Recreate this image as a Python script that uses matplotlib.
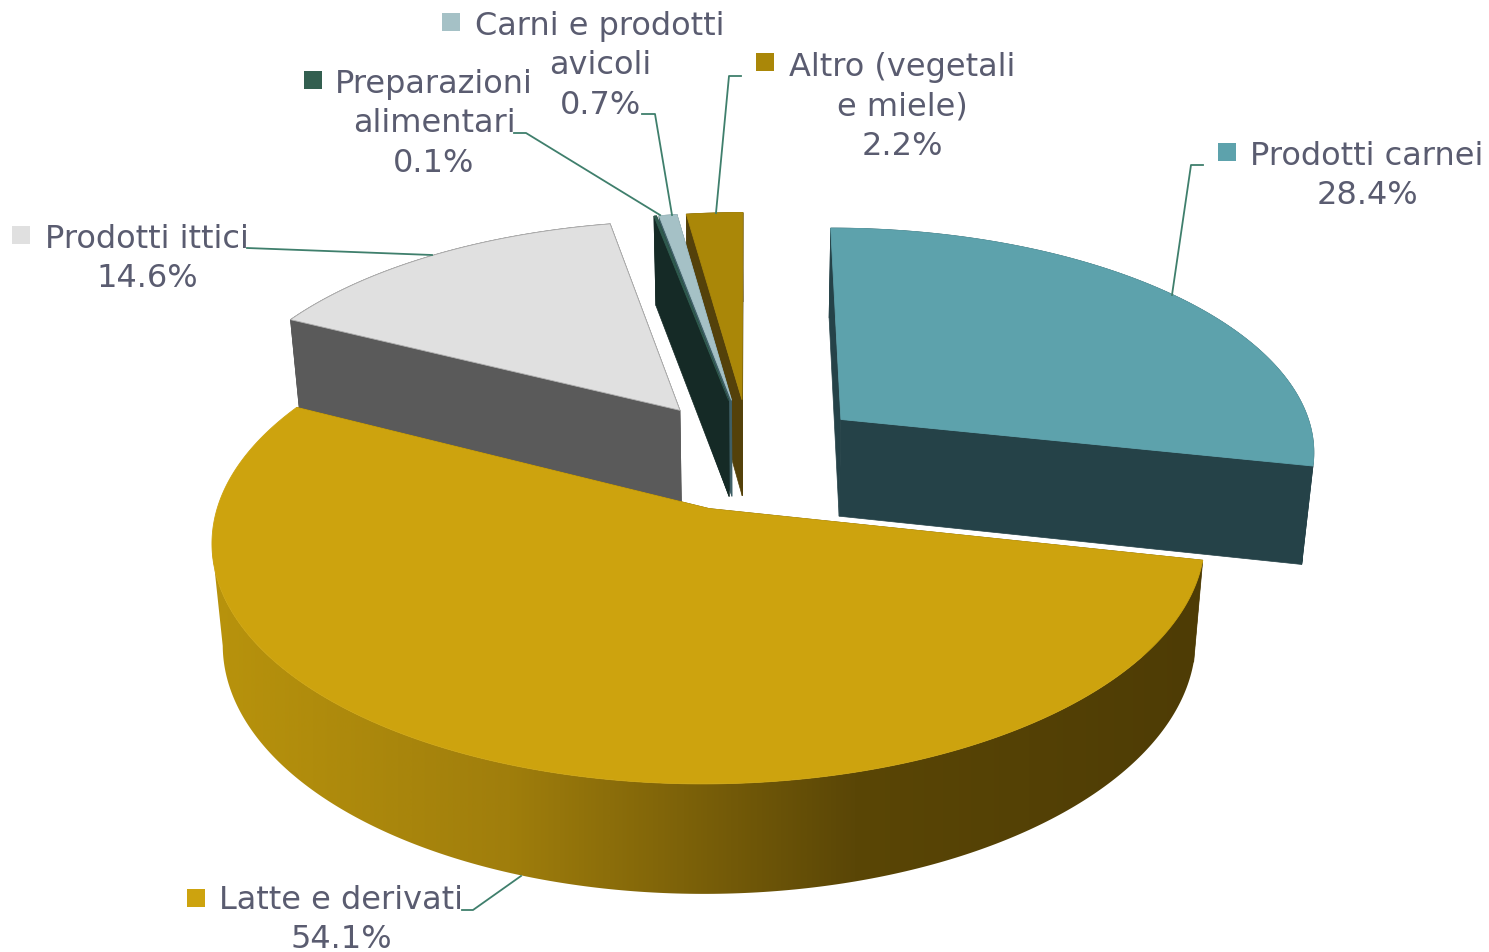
# 3D exploded pie, projected by hand since matplotlib has no perspective pie
import numpy as np
import matplotlib
matplotlib.use("Agg")
from matplotlib import pyplot as plt
from matplotlib.colors import LinearSegmentedColormap
from matplotlib.patches import Polygon

categories = ['Prodotti carnei', 'Latte e derivati', 'Prodotti ittici',
              'Preparazioni\nalimentari', 'Carni e prodotti\navicoli',
              'Altro (vegetali\ne miele)']
values = [28.4, 54.1, 14.6, 0.1, 0.7, 2.2]

top_colors = ['#5DA2AC', '#CDA30E', '#E0E0E0', '#2F5A4E', '#A5C1C6', '#AA8708']
side_colors = ['#254248', '#54410A', '#5A5A5A', '#152A26', '#3F5F66', '#54410A']
key_colors = ['#5DA2AC', '#CDA30E', '#E0E0E0', '#335F50', '#A5C1C6', '#AA8708']

# first line baseline, legend key centre, leader line (all in pixels)
label_pos = [(1367, 165), (341, 909), (147, 248), (434, 93), (600, 35), (902, 76)]
key_pos = [(1227, 153), (196, 899), (21, 236), (313, 81), (451, 23), (765, 63)]
leaders = [[(1203, 166), (1191, 166), (1172, 296)],
           [(462, 911), (473, 911), (521, 877)],
           [(247, 249), (432, 256)],
           [(514, 134), (526, 134), (660, 216)],
           [(642, 115), (655, 115), (672, 216)],
           [(741, 77), (729, 77), (716, 214)]]
line_step = 39.3

# projection of the pie plane to the picture
cx, cy = 750, 455
ax_x, ax_y = 477, 224.4
persp = 0.129
depth = 98
shrink = 0.98
explode = 0.25
text_color = '#5A5C70'
leader_color = '#3F7F6C'


def project(px, py, bottom=False):
    w = 1 + persp * py
    if bottom:
        return cx + shrink * ax_x * px / w, cy - shrink * ax_y * py / w + depth / w
    return cx + ax_x * px / w, cy - ax_y * py / w


side_cmap = LinearSegmentedColormap.from_list(
    'side', [(0, '#B8930C'), (0.3, '#A07E0C'), (0.65, '#5A4606'), (1, '#4E3C05')])

fig = plt.figure(figsize=(14.89, 9.53), dpi=100)
ax = fig.add_axes([0, 0, 1, 1])

fractions = np.array(values) / np.sum(values)
edges = np.concatenate([[0], np.cumsum(fractions)]) * 2 * np.pi
n_slices = len(values)

# back to front so that the nearer slices hide the others
for z, i in enumerate([5, 4, 3, 2, 0, 1]):
    start, stop = edges[i], edges[i + 1]
    mid = (start + stop) / 2
    ox, oy = explode * np.sin(mid), explode * np.cos(mid)
    n = max(4, int((stop - start) * 90))
    th = np.linspace(start, stop, n)
    rim_x, rim_y = ox + np.sin(th), oy + np.cos(th)

    tx, ty = project(rim_x, rim_y)
    bx, by = project(rim_x, rim_y, bottom=True)
    tox, toy = project(ox, oy)
    box, boy = project(ox, oy, bottom=True)

    # the two cut faces
    ax.fill([tox, tx[0], bx[0], box], [toy, ty[0], by[0], boy],
            color=side_colors[i], lw=0.5, zorder=z + 10)
    ax.fill([tox, tx[-1], bx[-1], box], [toy, ty[-1], by[-1], boy],
            color=side_colors[i], lw=0.5, zorder=z + 10)

    # outer wall, latte gets the lighting gradient
    if i == 1:
        # only between the two tangent points, or the clip path crosses itself
        a, b = np.argmax(tx), np.argmin(tx)
        wall = np.column_stack([np.r_[tx[a:b + 1], bx[a:b + 1][::-1]],
                                np.r_[ty[a:b + 1], by[a:b + 1][::-1]]])
        clip = Polygon(wall, closed=True, transform=ax.transData, fc='none', ec='none')
        ax.add_patch(clip)
        grad = side_cmap(np.linspace(0, 1, 512))[np.newaxis, :, :]
        im = ax.imshow(grad, extent=(tx.min(), tx.max(), by.max() + 5, ty.min() - 5),
                       aspect='auto', interpolation='bilinear', zorder=z + 10)
        im.set_clip_path(clip)
    else:
        ax.fill(np.r_[tx, bx[::-1]], np.r_[ty, by[::-1]], color=side_colors[i],
                lw=0.5, zorder=z + 10)

    ax.fill(np.r_[tox, tx], np.r_[toy, ty], facecolor=top_colors[i],
            edgecolor='#B0B0B0' if i == 2 else top_colors[i], lw=0.6, zorder=z + 10)

for i in range(n_slices):
    text = '%s\n%.1f%%' % (categories[i], values[i])
    for k, line in enumerate(text.split('\n')):
        ax.text(label_pos[i][0], label_pos[i][1] + k * line_step, line, ha='center',
                va='baseline', fontsize=23, color=text_color, family='DejaVu Sans',
                zorder=40)
    ax.plot(key_pos[i][0], key_pos[i][1], marker='s', ms=13, mew=0,
            color=key_colors[i], zorder=40)
    lx, ly = zip(*leaders[i])
    ax.plot(lx, ly, color=leader_color, lw=1.3, zorder=35)

ax.set_xlim(0, 1489)
ax.set_ylim(953, 0)
ax.axis('off')

fig.savefig('out.png', dpi=100)
